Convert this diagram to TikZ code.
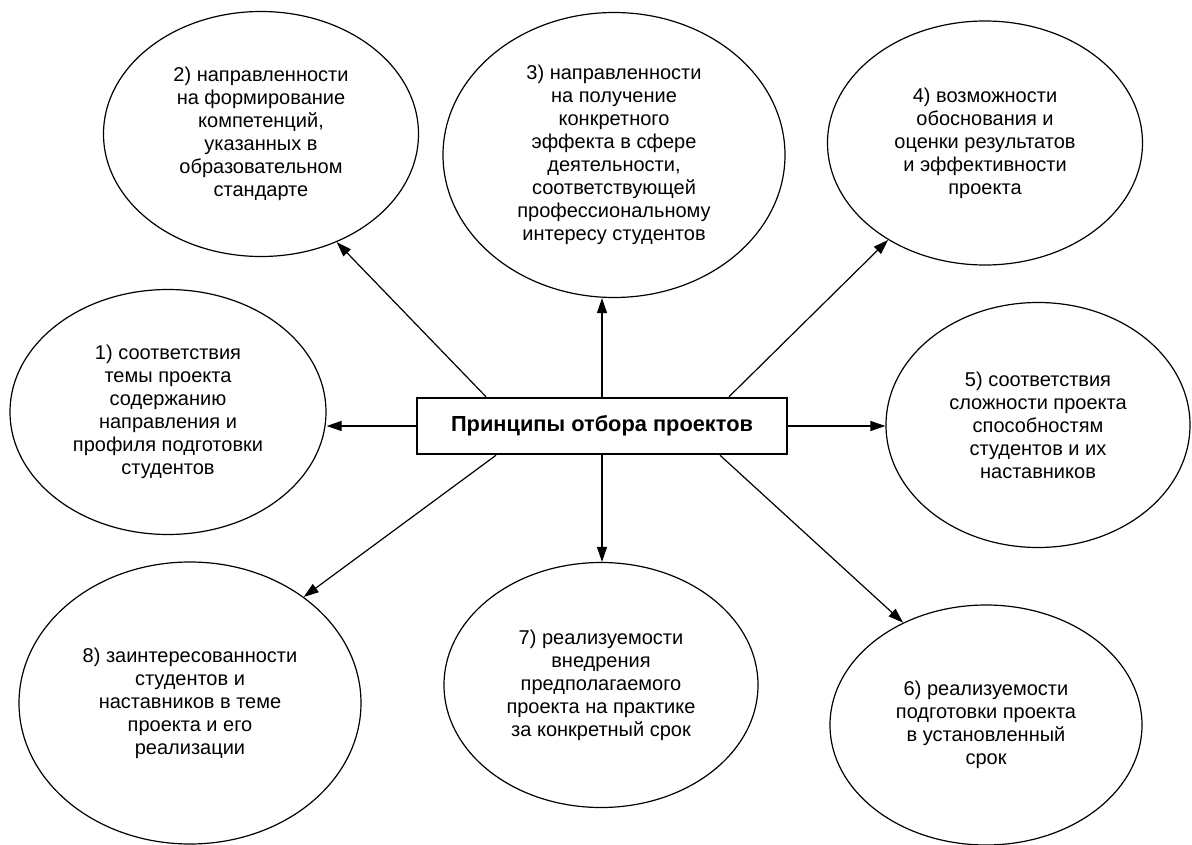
\documentclass[tikz,border=0pt]{standalone}
\usepackage{fontspec}
\setmainfont{Liberation Sans}
\usetikzlibrary{shapes.geometric,arrows.meta}
\begin{document}
\begin{tikzpicture}[x=1pt,y=-1pt,
  oval/.style={ellipse, draw, line width=1.2pt, inner sep=0pt, align=center,
    font=\fontsize{20}{23}\selectfont},
  arr/.style={line width=1.2pt, -{Triangle[length=15pt,width=10pt]}},
  titlebox/.style={draw, line width=2.5pt, minimum width=370pt, minimum height=56pt,
    inner sep=0pt, font=\bfseries\fontsize{21.8}{25}\selectfont}]
\useasboundingbox (0,0) rectangle (1192,845);

\node[titlebox] (box) at (602,426) {Принципы отбора проектов};

\node[oval, minimum width=316pt, minimum height=245pt] (e1) at (168,412)
  {1) соответствия\\темы проекта\\содержанию\\направления и\\профиля подготовки\\студентов};
\node[oval, minimum width=315pt, minimum height=245pt] (e2) at (261,134)
  {2) направленности\\на формирование\\компетенций,\\указанных в\\образовательном\\стандарте};
\node[oval, minimum width=342pt, minimum height=285pt] (e3) at (614,155)
  {3) направленности\\на получение\\конкретного\\эффекта в сфере\\деятельности,\\соответствующей\\профессиональному\\интересу студентов};
\node[oval, minimum width=315pt, minimum height=244pt] (e4) at (985,143)
  {4) возможности\\обоснования и\\оценки результатов\\и эффективности\\проекта};
\node[oval, minimum width=304pt, minimum height=245pt] (e5) at (1038,425)
  {5) соответствия\\сложности проекта\\способностям\\студентов и их\\наставников};
\node[oval, minimum width=312pt, minimum height=240pt] (e6) at (986,725)
  {6) реализуемости\\подготовки проекта\\в установленный\\срок};
\node[oval, minimum width=314pt, minimum height=245pt] (e7) at (601,685)
  {7) реализуемости\\внедрения\\предполагаемого\\проекта на практике\\за конкретный срок};
\node[oval, minimum width=342pt, minimum height=282pt] (e8) at (190,703)
  {8) заинтересованности\\студентов и\\наставников в теме\\проекта и его\\реализации};

\draw[arr] (box.west) -- (box.west -| e1.east);
\draw[arr] (box.east) -- (box.east -| e5.west);
\draw[arr] (box.north) -- (box.north |- e3.south);
\draw[arr] (box.south) -- (box.south |- e7.north);
\draw[arr] ([xshift=-116pt]box.north) -- (e2.-55);
\draw[arr] ([xshift=127pt]box.north) -- (e4.-135);
\draw[arr] ([xshift=-106pt]box.south) -- (e8.43);
\draw[arr] ([xshift=118pt]box.south) -- (e6.129);
\end{tikzpicture}
\end{document}
